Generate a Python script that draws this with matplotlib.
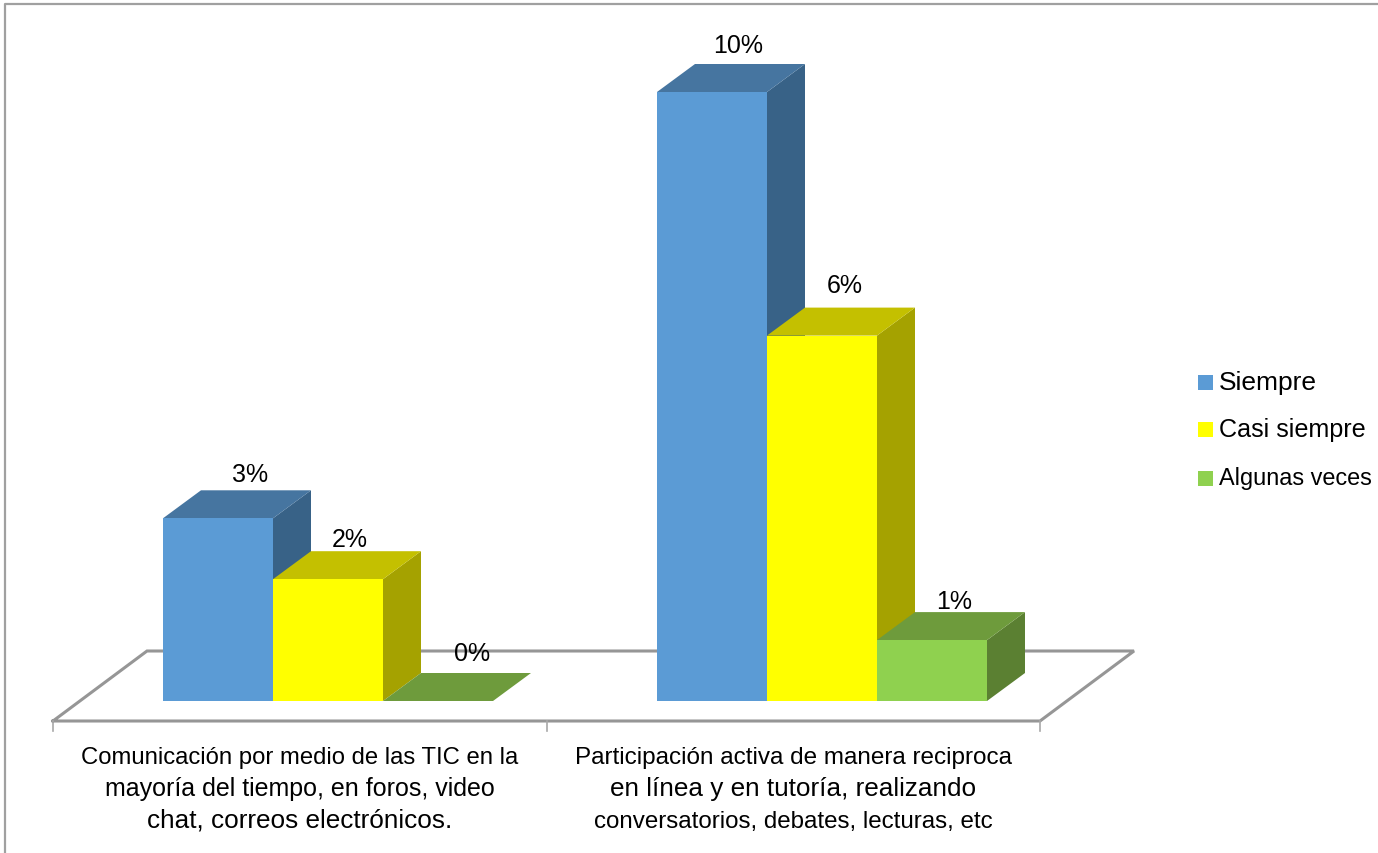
import matplotlib
matplotlib.use('Agg')
import matplotlib.pyplot as plt
from matplotlib.patches import Polygon, Rectangle

categories = [['Comunicación por medio de las TIC en la', 'mayoría del tiempo, en foros, video', 'chat, correos electrónicos.'],
              ['Participación activa de manera reciproca', 'en línea y en tutoría, realizando', 'conversatorios, debates, lecturas, etc']]
series = ['Siempre', 'Casi siempre', 'Algunas veces']
siempre = [3, 10]
casi_siempre = [2, 6]
algunas_veces = [0, 1]

front = ['#5B9BD5', '#FFFF00', '#8FD14F']
top = ['#4675A0', '#C4C000', '#6E9B3C']
side = ['#386287', '#A5A200', '#5B8032']

W, H = 1378, 854
BASE = 702
plt.rcParams['font.family'] = ['Liberation Sans', 'DejaVu Sans']
fig = plt.figure(figsize=(W/100, H/100), dpi=100)
ax = fig.add_axes([0, 0, 1, 1])

# scale: one category = 494 px, one percent = 60.9 px
px_x = 1/494
px_y = 1/60.9
ax.set_xlim(-328*px_x, (W-328)*px_x)
ax.set_ylim(-(H-BASE)*px_y, BASE*px_y)
ax.axis('off')

bw = 110*px_x
dx = 38*px_x
dy = 28*px_y

# outer frame, only top and left show
ax.plot([-323*px_x, -323*px_x, (W-328)*px_x], [-(H-BASE)*px_y, (BASE-5)*px_y, (BASE-5)*px_y],
        color='#A0A0A0', lw=1.6)

# floor
fl = -20*px_y
fx0 = -275*px_x
fx1 = 712*px_x
ax.plot([fx0, fx0+94*px_x, fx1+94*px_x, fx1, fx0],
        [fl, fl+70*px_y, fl+70*px_y, fl, fl], color='#969696', lw=2.2, solid_joinstyle='miter')
for t in [fx0, (fx0+fx1)/2, fx1]:
    ax.plot([t, t], [fl, fl-10*px_y], color='#A8A8A8', lw=1.2)

# label nudges per bar, in px from the bar's top centre
label_dx = [[13, 3, 15], [7, 4, 3]]
label_dy = [[4, 0, 8], [7, 11, -1]]

values = [siempre, casi_siempre, algunas_veces]
for c in range(len(categories)):
    for s in range(3):
        v = values[s][c]
        x0 = c + (s-1.5)*bw
        x1 = x0 + bw
        ax.add_patch(Polygon([(x1, 0), (x1+dx, dy), (x1+dx, v+dy), (x1, v)], fc=side[s], ec='none', zorder=3+s))
        ax.add_patch(Polygon([(x0, v), (x0+dx, v+dy), (x1+dx, v+dy), (x1, v)], fc=top[s], ec='none', zorder=3+s))
        ax.add_patch(Rectangle((x0, 0), bw, v, fc=front[s], ec='none', zorder=3+s))
        ax.text(x0+bw/2+dx/2+label_dx[c][s]*px_x, v+dy+label_dy[c][s]*px_y, '%d%%' % v,
                ha='center', va='bottom', fontsize=18, color='black', zorder=10)

# each line has its own size, the original spacing differs from line to line
line_sizes = [[17.2, 18.0, 18.8], [17.5, 18.8, 17.4]]
line_base = [764, 796, 828]
for c in range(len(categories)):
    for i in range(3):
        ax.text(c-28.5*px_x, (BASE-line_base[i])*px_y, categories[c][i], ha='center', va='baseline',
                fontsize=line_sizes[c][i], color='black')

legend_y = [383, 430, 479]
legend_sizes = [19, 18.1, 16.9]
for name, col, yp, fs in zip(series, front, legend_y, legend_sizes):
    ax.add_patch(Rectangle(((1198-328)*px_x, (BASE-yp-8)*px_y), 15*px_x, 15*px_y, fc=col, ec='none'))
    ax.text((1219-328)*px_x, (BASE-yp)*px_y, name, ha='left', va='center', fontsize=fs, color='black')

fig.savefig('out.png', dpi=100)
